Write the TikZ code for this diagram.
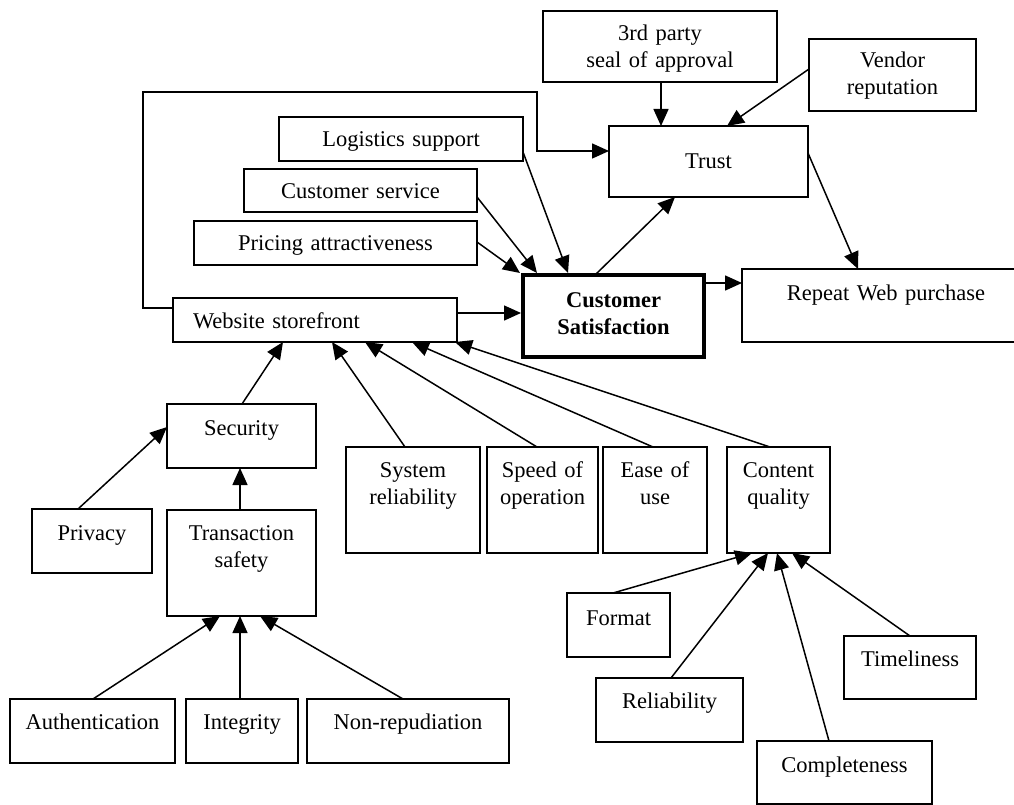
\documentclass[tikz,border=0pt]{standalone}
\usepackage{fontspec}
\setmainfont{Liberation Serif}
\usetikzlibrary{arrows.meta,calc}

\begin{document}
\begin{tikzpicture}[x=1pt,y=-1pt,
  box/.style={draw, line width=1.5pt, inner sep=0pt, outer sep=0pt,
    anchor=north west, align=center,
    font=\fontsize{22.5}{27}\selectfont},
  keybox/.style={box, line width=4pt, font=\fontsize{22.5}{27}\selectfont\bfseries},
  link/.style={line width=1.5pt, -{Triangle[length=17pt,width=15pt]}}]

\useasboundingbox (0,0) rectangle (1014,805);

% --- upper part: drivers of satisfaction and trust
\node[box, text width=234pt, text height=30pt, text depth=41pt] (seal) at (543,11) {3rd party\\seal of approval};
\node[box, text width=167pt, text height=29pt, text depth=43pt] (vend) at (809,39) {Vendor\\reputation};
\node[box, text width=199pt, text height=43pt, text depth=28pt] (trust) at (609,126) {Trust};
\node[box, text width=244pt, text height=30pt, text depth=14pt] (logi) at (279,117) {Logistics support};
\node[box, text width=233pt, text height=30pt, text depth=13pt] (csvc) at (244,169) {Customer service};
\node[box, text width=283pt, text height=29pt, text depth=15pt] (pric) at (194,221) {Pricing attractiveness};
\node[box, align=left, text width=284pt, text height=30pt, text depth=14pt] (web) at (173,298) {\hspace*{20pt}Website storefront};
\node[keybox, text width=181pt, text height=32pt, text depth=50pt] (csat) at (523,275) {Customer\\Satisfaction};
\node[box, text width=288pt, text height=31pt, text depth=42pt] (rep) at (742,269) {Repeat Web purchase};

% --- website attributes
\node[box, text width=149pt, text height=31pt, text depth=33pt] (sec) at (167,404) {Security};
\node[box, text width=120pt, text height=31pt, text depth=33pt] (priv) at (32,509) {Privacy};
\node[box, text width=149pt, text height=30pt, text depth=76pt] (tsaf) at (167,510) {Transaction\\safety};
\node[box, text width=165pt, text height=30pt, text depth=34pt] (auth) at (10,699) {Authentication};
\node[box, text width=112pt, text height=30pt, text depth=34pt] (integ) at (186,699) {Integrity};
\node[box, text width=202pt, text height=30pt, text depth=34pt] (nonrep) at (307,699) {Non-repudiation};
\node[box, text width=134pt, text height=30pt, text depth=76pt] (sysrel) at (346,447) {System\\reliability};
\node[box, text width=111pt, text height=30pt, text depth=76pt] (speed) at (487,447) {Speed of\\operation};
\node[box, text width=104pt, text height=30pt, text depth=76pt] (ease) at (603,447) {Ease of\\use};
\node[box, text width=103pt, text height=30pt, text depth=76pt] (cq) at (727,447) {Content\\quality};

% --- content quality attributes
\node[box, text width=103pt, text height=32pt, text depth=32pt] (fmt) at (567,593) {Format};
\node[box, text width=147pt, text height=30pt, text depth=34pt] (rel) at (596,678) {Reliability};
\node[box, text width=132pt, text height=30pt, text depth=33pt] (time) at (844,636) {Timeliness};
\node[box, text width=175pt, text height=31pt, text depth=32pt] (comp) at (757,741) {Completeness};

% --- feedback line from the storefront to trust
\coordinate (loopL) at (143,92);
\coordinate (loopR) at (537,92);
\draw[link] ($(web.north west)+(0,10)$) -| (loopL) -- (loopR) |- ($(trust.north west)+(0,25)$);

% --- connectors
\draw[link] ($(seal.south west)+(118,0)$) -- ($(trust.north west)+(52,0)$);
\draw[link] ($(vend.north west)+(0,30)$) -- ($(trust.north west)+(118,0)$);
\draw[link] ($(trust.north east)+(0,27)$) -- ($(rep.north west)+(116,0)$);
\draw[link] ($(csat.north west)+(72,0)$) -- ($(trust.south west)+(66,0)$);
\draw[link] ($(csat.north east)+(2,8)$) -- ($(rep.north west)+(0,14)$);
\draw[link] ($(logi.north east)+(0,35)$) -- ($(csat.north west)+(45,-2)$);
\draw[link] ($(csvc.north east)+(0,28)$) -- ($(csat.north west)+(14,-2)$);
\draw[link] ($(pric.north east)+(0,21)$) -- ($(csat.north west)+(-3,-2)$);
\draw[link] ($(web.north east)+(0,15)$) -- ($(csat.north west)+(-2,38)$);

\draw[link] ($(sec.north west)+(75,0)$) -- ($(web.south west)+(110,0)$);
\draw[link] ($(sysrel.north west)+(59,0)$) -- ($(web.south west)+(159,0)$);
\draw[link] ($(speed.north west)+(50,0)$) -- ($(web.south west)+(192,0)$);
\draw[link] ($(ease.north west)+(50,0)$) -- ($(web.south west)+(239,0)$);
\draw[link] ($(cq.north west)+(43,0)$) -- ($(web.south west)+(282,0)$);

\draw[link] ($(priv.north west)+(46,0)$) -- ($(sec.north west)+(0,23)$);
\draw[link] ($(tsaf.north west)+(73,0)$) -- ($(sec.south west)+(73,0)$);
\draw[link] ($(auth.north west)+(83,0)$) -- ($(tsaf.south west)+(53,0)$);
\draw[link] ($(integ.north west)+(54,0)$) -- ($(tsaf.south west)+(73,0)$);
\draw[link] ($(nonrep.north west)+(96,0)$) -- ($(tsaf.south west)+(93,0)$);

\draw[link] ($(fmt.north west)+(46,0)$) -- ($(cq.south west)+(25,0)$);
\draw[link] ($(rel.north west)+(75,0)$) -- ($(cq.south west)+(41,0)$);
\draw[link] ($(comp.north west)+(72,0)$) -- ($(cq.south west)+(50,0)$);
\draw[link] ($(time.north west)+(66,0)$) -- ($(cq.south west)+(65,0)$);
\end{tikzpicture}
\end{document}
